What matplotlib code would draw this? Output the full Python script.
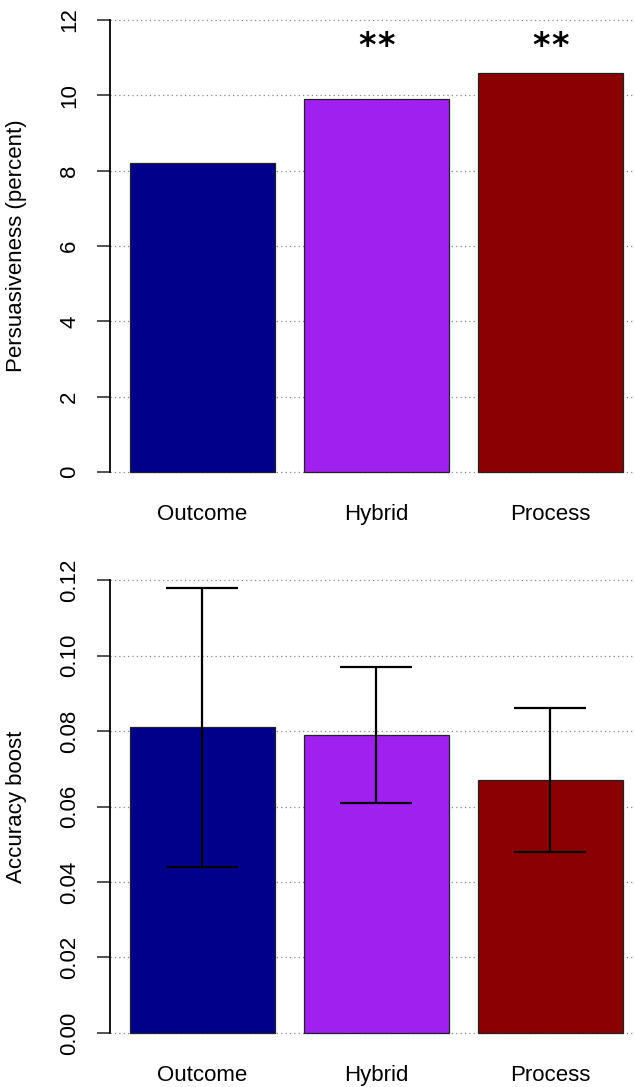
import numpy as np
import matplotlib.pyplot as plt
from matplotlib.transforms import offset_copy

plt.rcParams['font.family'] = ['Liberation Sans', 'DejaVu Sans']

groups = ["Outcome", "Hybrid", "Process"]
colors = ["#00008B", "#A020F0", "#8B0000"]

persuasive = [8.2, 9.9, 10.6]
stars = ["", "**", "**"]

boost = [0.081, 0.079, 0.067]
boost_lo = [0.044, 0.061, 0.048]
boost_hi = [0.118, 0.097, 0.086]

W, H = 635, 1087
fig = plt.figure(figsize=(W / 100, H / 100), dpi=100)

# R barplot style positions: width 1, space 0.2
xpos = np.array([0.7, 1.9, 3.1])
xlim = (0.064, 0.064 + (W - 110) / 145.0)


def panel(rect, vals, ymax, ticks, ticklabels, ylabel):
    ax = fig.add_axes(rect)
    pad = ymax * 0.04
    ax.set_ylim(-pad, ymax + pad)
    ax.set_xlim(*xlim)
    for t in ticks:
        ax.axhline(t, color="#888888", lw=0.9, ls=(0, (1, 2.5)), zorder=0)
    ax.bar(xpos, vals, width=1.0, color=colors, edgecolor="#222222",
           linewidth=0.9, zorder=2)
    for s in ["top", "right", "bottom"]:
        ax.spines[s].set_visible(False)
    ax.spines["left"].set_bounds(ticks[0], ticks[-1])
    ax.spines["left"].set_linewidth(1.3)
    ax.set_yticks(ticks)
    ax.set_yticklabels(ticklabels, rotation=90, va="center")
    ax.tick_params(axis="y", length=9.5, width=1.3, color="#444444",
                   pad=12, labelsize=16)
    ax.set_xticks(xpos)
    ax.set_xticklabels(groups)
    ax.tick_params(axis="x", length=0, pad=10, labelsize=16)
    yc = 1 - (rect[1] + rect[3] / 2)
    fig.text(17 / W, 1 - yc, ylabel, rotation=90, ha="center", va="center",
             fontsize=16)
    return ax


ax1 = panel([110 / W, 1 - 490.1 / H, 1 - 110 / W, (490.1 - 1.9) / H],
            persuasive, 12, [0, 2, 4, 6, 8, 10, 12],
            ["0", "2", "4", "6", "8", "10", "12"],
            "Persuasiveness (percent)")
# significance stars, each asterisk drawn a bit apart like the R output
for x, s in zip(xpos, stars):
    n = len(s)
    for k in range(n):
        dx = (k - (n - 1) / 2) * 13.5  # points
        tr = offset_copy(ax1.transData, fig=fig, x=dx, y=0, units="points")
        ax1.text(x, 11.05, "*", transform=tr, ha="center", va="baseline",
                 fontsize=24, fontweight="bold", family="DejaVu Sans")

ax2 = panel([110 / W, 1 - 1051.1 / H, 1 - 110 / W, (1051.1 - 561.9) / H],
            boost, 0.12, [0, 0.02, 0.04, 0.06, 0.08, 0.10, 0.12],
            ["0.00", "0.02", "0.04", "0.06", "0.08", "0.10", "0.12"],
            "Accuracy boost")
err = [np.array(boost) - np.array(boost_lo), np.array(boost_hi) - np.array(boost)]
ax2.errorbar(xpos, boost, yerr=err, fmt="none", ecolor="black",
             elinewidth=1.6, capsize=26, capthick=1.6, zorder=3)

fig.savefig("out.png", dpi=100)
